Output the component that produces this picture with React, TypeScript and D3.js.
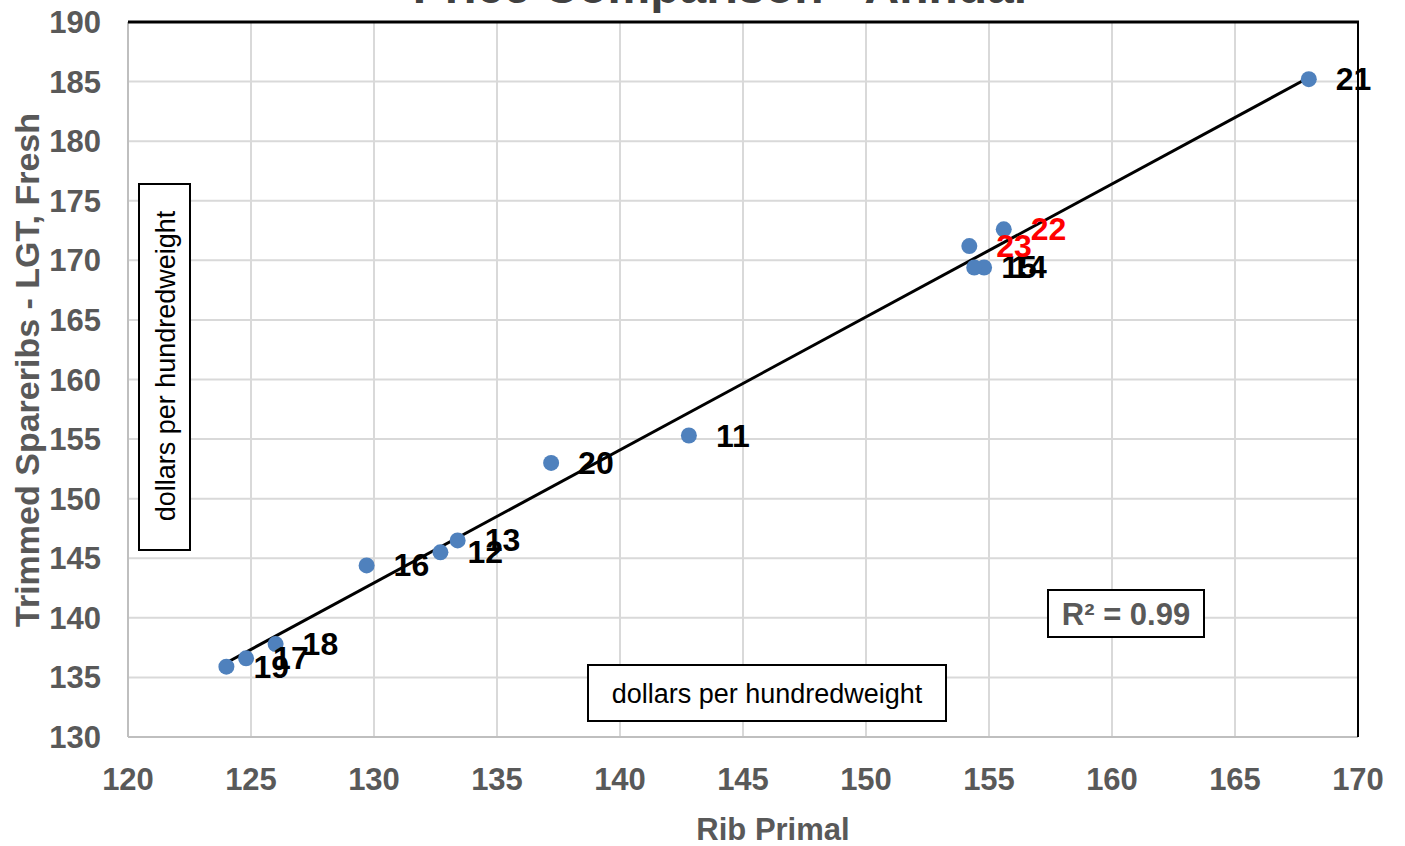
import React from "react";
import * as d3 from "d3";

const labels = ["11", "12", "13", "14", "15", "16", "17", "18", "19", "20", "21", "22", "23"];
const ribPrimal = [142.8, 132.7, 133.4, 154.8, 154.4, 129.7, 124.8, 126.0, 124.0, 137.2, 168.0, 155.6, 154.2];
const spareribs = [155.3, 145.5, 146.5, 169.4, 169.4, 144.4, 136.6, 137.8, 135.9, 153.0, 185.2, 172.6, 171.2];
const highlighted = ["22", "23"];
const xTicks = [120, 125, 130, 135, 140, 145, 150, 155, 160, 165, 170];
const yTicks = [130, 135, 140, 145, 150, 155, 160, 165, 170, 175, 180, 185, 190];
const titleText = "Price Comparison - Annual";
const xTitle = "Rib Primal";
const yTitle = "Trimmed Spareribs - LGT, Fresh";
const unitText = "dollars per hundredweight";
const r2Text = "R² = 0.99";

export default function App() {
  const W = 1405, H = 846;
  const left = 128, right = 1358, top = 22, bottom = 737;
  const x = d3.scaleLinear().domain([120, 170]).range([left, right]);
  const y = d3.scaleLinear().domain([130, 190]).range([bottom, top]);

  const pts = labels.map((l, i) => ({ l, x: ribPrimal[i], y: spareribs[i] }));
  const mx = d3.mean(ribPrimal)!, my = d3.mean(spareribs)!;
  let sxy = 0, sxx = 0;
  pts.forEach(p => { sxy += (p.x - mx) * (p.y - my); sxx += (p.x - mx) ** 2; });
  const slope = sxy / sxx, icpt = my - slope * mx;
  const [x0, x1] = d3.extent(ribPrimal) as [number, number];
  const line = d3.line<number>().x(v => x(v)).y(v => y(icpt + slope * v));

  const font = "Arial, 'Liberation Sans', sans-serif";
  const gray = "#595959";

  return (
    <svg width={W} height={H} style={{ position: "absolute", left: 0, top: 0, background: "#fff" }} fontFamily={font}>
      <text x={720} y={3} textAnchor="middle" fontSize={48} fontWeight="bold" fill="#404040">{titleText}</text>
      {xTicks.map(t => (
        <line key={"gx" + t} x1={x(t)} x2={x(t)} y1={top} y2={bottom} stroke="#d9d9d9" strokeWidth={2} />
      ))}
      {yTicks.map(t => (
        <line key={"gy" + t} x1={left} x2={right} y1={y(t)} y2={y(t)} stroke="#d9d9d9" strokeWidth={2} />
      ))}
      <line x1={left} x2={left} y1={top} y2={bottom} stroke="#bfbfbf" strokeWidth={2} />
      <line x1={left} x2={right} y1={bottom} y2={bottom} stroke="#bfbfbf" strokeWidth={2} />
      <line x1={left} x2={right + 1} y1={top} y2={top} stroke="#000" strokeWidth={3} />
      <line x1={right} x2={right} y1={top} y2={bottom} stroke="#000" strokeWidth={2} />

      {xTicks.map(t => (
        <text key={"tx" + t} x={x(t)} y={790} textAnchor="middle" fontSize={31} fontWeight="bold" fill={gray}>{t}</text>
      ))}
      {yTicks.map(t => (
        <text key={"ty" + t} x={101} y={y(t) + 11} textAnchor="end" fontSize={31} fontWeight="bold" fill={gray}>{t}</text>
      ))}

      <text x={773} y={840} textAnchor="middle" fontSize={31} fontWeight="bold" fill={gray}>{xTitle}</text>
      <text transform={`translate(39,370) rotate(-90)`} textAnchor="middle" fontSize={34} fontWeight="bold" fill={gray}>{yTitle}</text>

      <rect x={139} y={184} width={51} height={366} fill="#fff" stroke="#000" strokeWidth={2} />
      <text transform={`translate(175,366) rotate(-90)`} textAnchor="middle" fontSize={27} fill="#000">{unitText}</text>
      <rect x={588} y={665} width={358} height={56} fill="#fff" stroke="#000" strokeWidth={2} />
      <text x={767} y={703} textAnchor="middle" fontSize={27} fill="#000">{unitText}</text>

      <rect x={1048} y={590} width={156} height={47} fill="#fff" stroke="#000" strokeWidth={2} />
      <text x={1126} y={625} textAnchor="middle" fontSize={31} fontWeight="bold" fill={gray}>{r2Text}</text>

      <path d={line([x0, x1]) || ""} fill="none" stroke="#000" strokeWidth={3} />

      {pts.map(p => (
        <circle key={"c" + p.l} cx={x(p.x)} cy={y(p.y)} r={8} fill="#4f81bd" />
      ))}
      {pts.map(p => (
        <text key={"l" + p.l} x={x(p.x) + 27} y={y(p.y) + 11} fontSize={32} fontWeight="bold"
          fill={highlighted.includes(p.l) ? "#ff0000" : "#000"}>{p.l}</text>
      ))}
    </svg>
  );
}
